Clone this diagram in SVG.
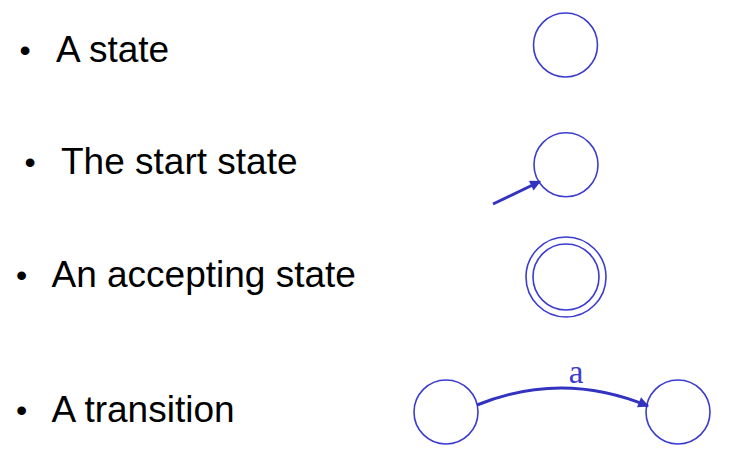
<svg xmlns="http://www.w3.org/2000/svg" width="743" height="468" viewBox="0 0 743 468">
<style>
.t{font-family:"Liberation Sans",Arial,sans-serif;font-size:37px;fill:#000}
.b{font-family:"Liberation Sans",Arial,sans-serif;font-size:32px;fill:#000}
.st{fill:none;stroke:#3c3cd0;stroke-width:1.6}
.ed{fill:none;stroke:#3333c0;stroke-width:3}
.lb{font-family:"Liberation Serif","Times New Roman",serif;font-size:33px;fill:#3c3cd0}
</style>
<defs>
<marker id="ah" viewBox="0 0 10 10" refX="9" refY="5" markerWidth="4" markerHeight="3.6" orient="auto" markerUnits="strokeWidth">
<path d="M0,0 L10,5 L0,10 z" fill="#3333c0"/>
</marker>
</defs>
<g id="labels">
<text class="b" x="19.4" y="61.4">•</text><text class="t" x="56" y="62">A state</text>
<text class="b" x="24.4" y="173">•</text><text class="t" x="61" y="173.5">The start state</text>
<text class="b" x="16.1" y="286.4">•</text><text class="t" x="51.5" y="287">An accepting state</text>
<text class="b" x="15.9" y="421.4">•</text><text class="t" x="51.5" y="422">A transition</text>
</g>
<g id="state"><circle class="st" cx="565.5" cy="45" r="32"/></g>
<g id="start"><circle class="st" cx="566" cy="164.7" r="32"/></g>
<g id="accepting"><circle class="st" cx="566" cy="277" r="40"/><circle class="st" cx="566" cy="277" r="33"/></g>
<g id="t1"><circle class="st" cx="446" cy="412" r="32"/></g>
<g id="t2"><circle class="st" cx="678" cy="412" r="32"/></g>
<g id="connectors">
<line class="ed" x1="493" y1="204" x2="540" y2="181.5" marker-end="url(#ah)"/>
<path class="ed" d="M477,405 Q562,370.5 648,406" marker-end="url(#ah)"/>
<text class="lb" x="576" y="382.5" text-anchor="middle">a</text>
</g>
</svg>
